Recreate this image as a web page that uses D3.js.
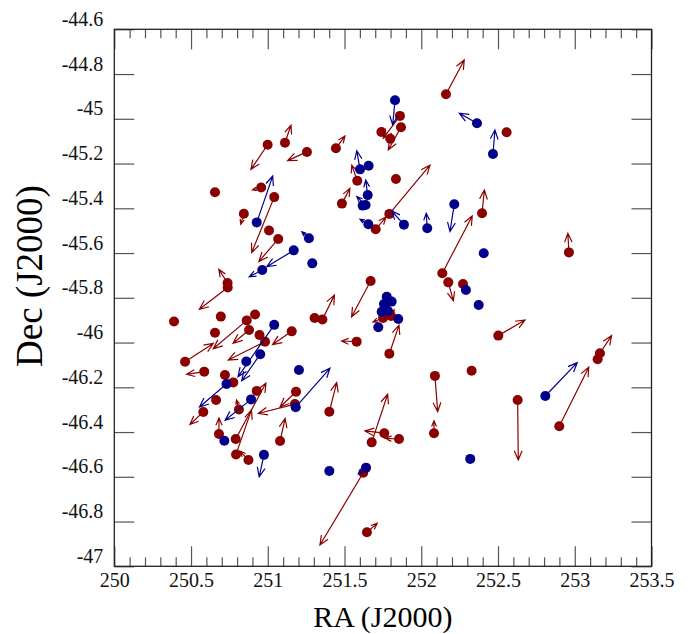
<!DOCTYPE html>
<html>
<head>
<meta charset="utf-8">
<script src="https://cdnjs.cloudflare.com/ajax/libs/d3/7.8.5/d3.min.js"></script>
<style>
body { margin: 0; background: #fff; }
svg text { font-family: "Liberation Serif", "DejaVu Serif", serif; }
</style>
</head>
<body>
<div id="chart"></div>
<script>
// tick labels
var xTicks = [250, 250.5, 251, 251.5, 252, 252.5, 253, 253.5];
var yTicks = [-47, -46.8, -46.6, -46.4, -46.2, -46, -45.8, -45.6, -45.4, -45.2, -45, -44.8, -44.6];

// red group: position (deg) and arrow vector (deg)
var redRA = [250.999, 251.112, 251.255, 250.656, 250.957, 251.042, 250.844, 251.008, 251.068, 250.738,
  250.739, 250.389, 250.694, 250.863, 250.917, 250.656, 250.878, 250.946, 250.982, 251.156,
  251.305, 251.356, 250.461, 250.586, 250.721, 250.775, 250.663, 250.580, 250.928, 250.812,
  250.682, 250.791, 250.793, 250.874, 251.080, 251.184, 251.177, 251.401, 251.579, 251.792,
  251.670, 251.483, 251.444, 251.583, 251.835, 251.792, 251.703, 251.861, 251.868, 251.740,
  251.798, 252.161, 252.556, 252.396, 252.962, 252.137, 252.176, 252.272, 252.502, 252.328,
  252.089, 252.083, 251.759, 251.677, 251.855, 251.622, 251.646, 252.628, 252.899, 253.149,
  253.164, 251.751, 251.803];
var redDec = [-45.116, -45.107, -45.148, -45.328, -45.307, -45.350, -45.424, -45.499, -45.537, -45.734,
  -45.754, -45.906, -45.884, -45.901, -45.875, -45.956, -45.944, -45.966, -45.996, -45.950,
  -45.890, -45.897, -46.086, -46.130, -46.145, -46.178, -46.257, -46.310, -46.216, -46.299,
  -46.409, -46.431, -46.500, -46.525, -46.440, -46.220, -46.275, -46.309, -45.996, -46.050,
  -45.725, -45.379, -45.132, -45.277, -45.269, -45.425, -45.494, -44.987, -45.038, -45.059,
  -45.089, -44.890, -45.060, -45.422, -45.597, -45.690, -45.731, -45.738, -45.969, -46.126,
  -46.149, -46.405, -46.405, -46.446, -46.431, -46.582, -46.848, -46.257, -46.374, -46.075,
  -46.048, -45.890, -45.881];
var redDRA = [-0.109, 0.039, -0.126, 0, -0.057, -0.147, -0.020, 0, -0.126, -0.057,
  -0.185, 0, 0, -0.218, 0, 0, -0.104, 0, -0.239, -0.125,
  0, 0.078, 0.184, -0.115, 0, 0, 0, -0.087, 0, -0.016,
  0, 0.197, 0.101, -0.055, 0.033, -0.104, -0.239, 0.048, -0.098, 0.063,
  -0.124, 0.052, 0.059, -0.036, 0, 0.265, 0.067, -0.109, -0.083, 0,
  0, 0.119, 0, 0.015, -0.007, 0.195, 0.033, 0, 0.174, 0,
  0.018, 0, -0.126, 0.104, -0.091, -0.282, 0.067, 0.004, 0.192, 0,
  0.076, -0.065, 0.020];
var redDDec = [-0.110, 0.078, -0.039, 0, -0.011, -0.248, -0.047, 0, -0.101, 0.061,
  -0.097, 0, 0, -0.127, 0, 0, -0.059, 0, -0.082, -0.059,
  0, 0.109, 0.082, -0.012, 0, 0, 0, -0.056, 0, 0.042,
  0.072, 0.250, 0.199, 0.040, 0.101, -0.068, -0.042, 0.130, 0.003, 0.128,
  -0.160, 0.068, 0.055, 0.070, 0, 0.218, 0.055, -0.100, -0.101, 0,
  0, 0.153, 0, 0.104, 0.085, 0.256, -0.082, 0, 0.070, 0,
  -0.160, 0.055, 0.010, 0.215, 0.003, -0.323, 0.040, -0.268, 0.264, 0,
  0.079, -0.018, 0.027];

// blue group
var blueRA = [250.928, 251.268, 251.169, 250.964, 251.290, 251.042, 250.951, 250.860, 251.203, 250.731,
  250.891, 250.717, 250.975, 251.182, 251.401, 251.640, 252.319, 252.808, 251.829, 252.363,
  252.467, 251.601, 251.657, 251.651, 251.618, 251.637, 251.655, 251.887, 252.039, 252.215,
  252.407, 252.291, 252.374, 251.775, 251.807, 251.764, 251.742, 251.783, 251.850, 251.720,
  251.757];
var blueDec = [-45.463, -45.534, -45.588, -45.676, -45.646, -45.921, -46.052, -46.085, -46.123, -46.185,
  -46.254, -46.439, -46.502, -46.289, -46.574, -46.559, -46.520, -46.239, -44.917, -45.020,
  -45.157, -45.226, -45.210, -45.341, -45.388, -45.385, -45.471, -45.473, -45.489, -45.382,
  -45.601, -45.765, -45.832, -45.795, -45.817, -45.840, -45.862, -45.859, -45.895, -45.932,
  -45.828];
var blueDRA = [0.104, -0.046, -0.176, -0.085, 0, -0.236, -0.121, 0, 0, -0.176,
  -0.169, 0, -0.031, 0.223, 0, -0.050, 0, 0.208, -0.015, -0.115,
  0.013, -0.021, 0, -0.013, 0, -0.057, -0.054, -0.080, -0.007, -0.028,
  0, 0, 0, 0, 0, 0, 0, 0, 0, 0,
  0];
var blueDDec = [0.207, 0.029, -0.073, -0.030, 0, -0.232, -0.119, 0, 0, -0.103,
  -0.093, 0, -0.098, 0.174, 0, -0.029, 0, 0.149, -0.110, 0.045,
  0.107, 0.083, 0, 0.067, 0, 0.037, 0.022, 0.061, 0.067, -0.122,
  0, 0, 0, 0, 0, 0, 0, 0, 0, 0,
  0];

var W = 694, H = 634;
var plotL = 114.3, plotT = 29.3, plotR = 651.5, plotB = 566.3;

var svg = d3.select('#chart').append('svg')
  .attr('width', W)
  .attr('height', H);

var x = d3.scaleLinear().domain([250, 253.5]).range([plotL, plotR]);
var y = d3.scaleLinear().domain([-47, -44.6]).range([plotB, plotT]);

var fmt = function(d) { return String(Math.round(d * 10) / 10); };
var xMinor = d3.range(250, 253.5001, 0.1).filter(function(v) {
  return Math.abs(v * 2 - Math.round(v * 2)) > 1e-6;
});

// minor x ticks
svg.append('g').attr('transform', 'translate(0,' + plotB + ')')
  .call(d3.axisBottom(x).tickValues(xMinor).tickSize(-9).tickFormat(''));
svg.append('g').attr('transform', 'translate(0,' + plotT + ')')
  .call(d3.axisTop(x).tickValues(xMinor).tickSize(-9).tickFormat(''));

// major ticks and labels
svg.append('g').attr('class', 'xaxis').attr('transform', 'translate(0,' + plotB + ')')
  .call(d3.axisBottom(x).tickValues(xTicks).tickSize(-20).tickPadding(7).tickFormat(fmt));
svg.append('g').attr('transform', 'translate(0,' + plotT + ')')
  .call(d3.axisTop(x).tickValues(xTicks).tickSize(-20).tickFormat(''));
svg.append('g').attr('class', 'yaxis').attr('transform', 'translate(' + plotL + ',0)')
  .call(d3.axisLeft(y).tickValues(yTicks).tickSize(-20).tickPadding(11).tickFormat(fmt));
svg.append('g').attr('transform', 'translate(' + plotR + ',0)')
  .call(d3.axisRight(y).tickValues(yTicks).tickSize(-20).tickFormat(''));

svg.selectAll('.domain').remove();
svg.selectAll('.tick line').attr('stroke', '#555').attr('stroke-width', 1.2);
svg.selectAll('.tick text')
  .attr('fill', '#111')
  .attr('font-family', null)
  .style('font-size', '20px');
svg.selectAll('.yaxis .tick text').attr('dy', '-0.2em');

// frame
svg.append('rect')
  .attr('x', plotL).attr('y', plotT)
  .attr('width', plotR - plotL).attr('height', plotB - plotT)
  .attr('fill', 'none')
  .attr('stroke', '#222')
  .attr('stroke-width', 1.3);

// axis titles
svg.append('text')
  .attr('x', (plotL + plotR) / 2).attr('y', 627)
  .attr('text-anchor', 'middle')
  .style('font-size', '30px')
  .text('RA (J2000)');
svg.append('text')
  .attr('transform', 'translate(42,' + 276 + ') rotate(-90)')
  .attr('text-anchor', 'middle')
  .style('font-size', '37px')
  .text('Dec (J2000)');

function arrowPath(ra, dec, dra, ddec) {
  var sx = x(ra), sy = y(dec), ex = x(ra + dra), ey = y(dec + ddec);
  var len = Math.hypot(ex - sx, ey - sy);
  var a = Math.atan2(ey - sy, ex - sx);
  var h = Math.min(10, len * 0.5), s = 0.4;
  var p1 = [ex - h * Math.cos(a - s), ey - h * Math.sin(a - s)];
  var p2 = [ex - h * Math.cos(a + s), ey - h * Math.sin(a + s)];
  return 'M' + sx + ',' + sy + 'L' + ex + ',' + ey +
    'M' + p1[0] + ',' + p1[1] + 'L' + ex + ',' + ey + 'L' + p2[0] + ',' + p2[1];
}

function drawGroup(ra, dec, dra, ddec, color) {
  var g = svg.append('g');
  var idx = d3.range(ra.length);
  g.selectAll('path')
    .data(idx.filter(function(i) { return dra[i] !== 0 || ddec[i] !== 0; }))
    .enter().append('path')
    .attr('d', function(i) { return arrowPath(ra[i], dec[i], dra[i], ddec[i]); })
    .attr('fill', 'none')
    .attr('stroke', color)
    .attr('stroke-width', 1.2);
  g.selectAll('circle')
    .data(idx)
    .enter().append('circle')
    .attr('cx', function(i) { return x(ra[i]); })
    .attr('cy', function(i) { return y(dec[i]); })
    .attr('r', 5)
    .style('fill', color);
}

drawGroup(redRA, redDec, redDRA, redDDec, '#8b0000');
drawGroup(blueRA, blueDec, blueDRA, blueDDec, '#00008b');
</script>
</body>
</html>
